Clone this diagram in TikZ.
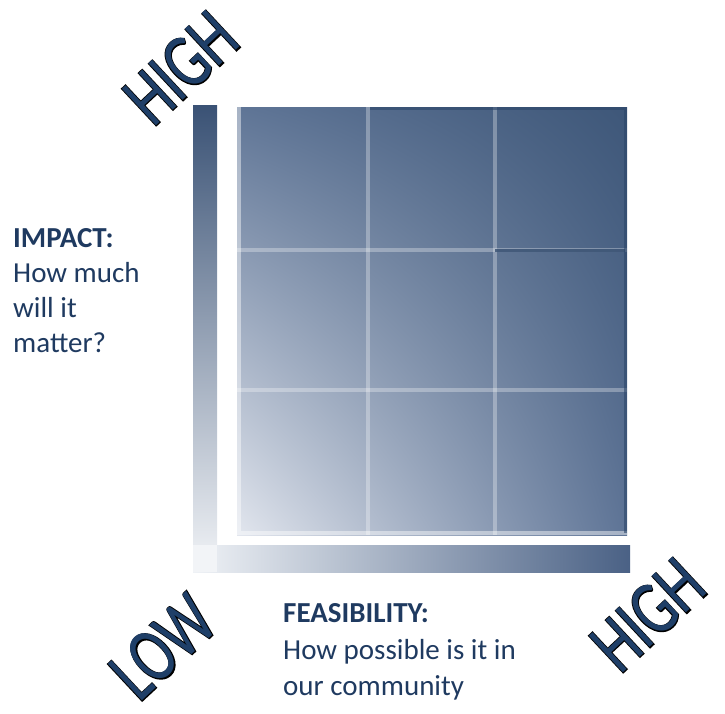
\documentclass[tikz,border=0pt]{standalone}
\usepackage{fontspec}
\setmainfont{Carlito}
\newfontfamily\waout[FakeBold=2.5]{Carlito}
\newfontfamily\wain{Carlito}
\usetikzlibrary{calc,shadings}
\definecolor{txt}{HTML}{1F3A60}
\definecolor{wafill}{HTML}{1F3F68}
\definecolor{bartop}{HTML}{3A5275}
\definecolor{barbot}{HTML}{F2F4F7}
\definecolor{hbarl}{HTML}{EFF2F6}
\definecolor{hbarr}{HTML}{4A6185}
\definecolor{gul}{HTML}{5F7596}
\definecolor{gur}{HTML}{3E5779}
\definecolor{gll}{HTML}{E2E6EE}
\definecolor{glr}{HTML}{5E7496}
\definecolor{darkedge}{HTML}{2C4669}
\tikzset{
  lbl/.style={anchor=base west, inner sep=0pt, text=txt, font=\fontsize{29}{35}\selectfont},
  wa/.style={inner sep=0pt, rotate=43, xscale=0.74},
  waback/.style={wa, text=black, font=\waout\fontsize{78}{78}\selectfont},
  wafront/.style={wa, text=wafill, font=\wain\fontsize{78}{78}\selectfont},
  gridline/.style={white, opacity=0.3, line width=3.5pt},
}
\begin{document}
\begin{tikzpicture}[x=1pt, y=-1pt]
\useasboundingbox (0,0) rectangle (725,713);
% axis bars
\shade[top color=bartop, bottom color=barbot] (193,105) rectangle (217,572);
\shade[left color=hbarl, right color=hbarr] (193,545) rectangle (630,572);
\fill[barbot] (193,545) rectangle (217,572);
% grid square
\shade[upper left=gul, upper right=gur, lower left=gll, lower right=glr] (237,107) rectangle (627,535);
\node[inner sep=0pt, minimum width=390pt, minimum height=428pt] (grid) at (432,321) {};
% inner grid lines
\draw[gridline] (368,107) -- (368,535);
\draw[gridline] (495,107) -- (495,535);
\draw[gridline] (237,250) -- (627,250);
\draw[gridline] (237,390) -- (627,390);
% outer border
\draw[white, opacity=0.45, line width=4pt] (239,107) -- (239,533) -- (627,533);
\draw[darkedge, opacity=0.6, line width=2.5pt] (370,108.5) -- (625.5,108.5) -- (625.5,533);
\draw[darkedge, opacity=0.75, line width=3pt] (495,250) -- (625,250);
% labels
\node[lbl] (imp1) at (13,247) {\textbf{IMPACT:}};
\node[lbl] (imp2) at (13,282) {How much};
\node[lbl] (imp3) at (13,317) {will it};
\node[lbl] (imp4) at (13,352) {matter?};
\node[lbl] (fea1) at (283,622) {\textbf{FEASIBILITY:}};
\node[lbl] (fea2) at (283,659) {How possible is it in};
\node[lbl] (fea3) at (283,695) {our community};
% word art
\node[waback] (hightopb) at (181,68) {HIGH};
\node[wafront] (hightop) at (181,68) {HIGH};
\node[waback] (lowb) at (163,647) {LOW};
\node[wafront] (low) at (163,647) {LOW};
\node[waback] (highrightb) at (648,615) {HIGH};
\node[wafront] (highright) at (648,615) {HIGH};
\end{tikzpicture}
\end{document}
